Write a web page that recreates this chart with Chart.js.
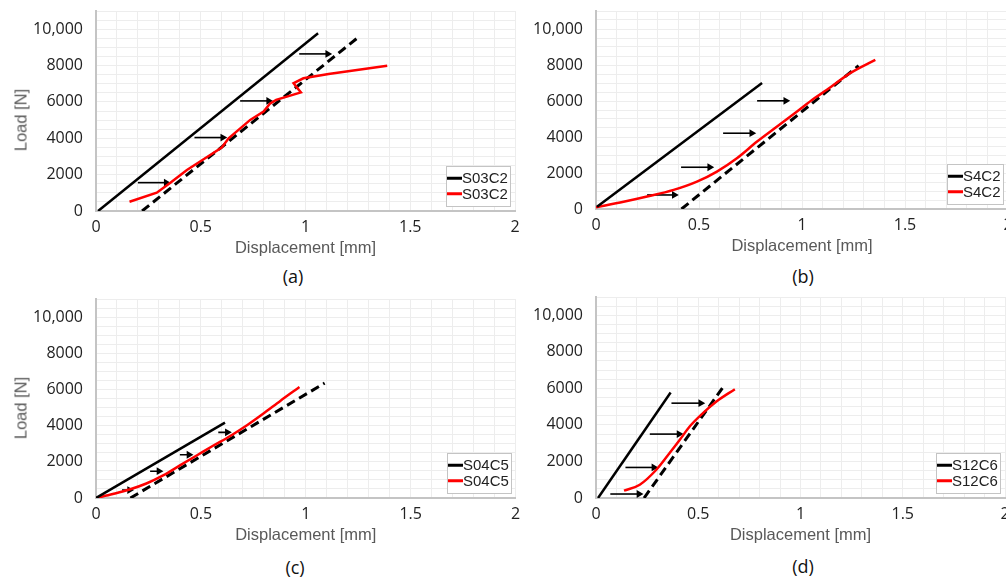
<!DOCTYPE html>
<html>
<head>
<meta charset="utf-8">
<script src="https://cdn.jsdelivr.net/npm/chart.js@4.4.1/dist/chart.umd.min.js"></script>
<style>
  html, body { margin: 0; padding: 0; background: #fff; }
  body { width: 1006px; height: 577px; position: relative; overflow: hidden; }
  canvas { position: absolute; }
  .ytitle, .caption { position: absolute; white-space: nowrap; transform: translate(-50%, -50%); }
  .ytitle { font: 16.5px "Liberation Sans", Arial, sans-serif; color: #595959; transform: translate(-50%, -50%) rotate(-90deg); }
  .caption { font: 18px "Open Sans", sans-serif; color: #111; }
</style>
</head>
<body>
<script>
// load-displacement curves, four specimens
// each point is [displacement mm, load N]; arrows are [x start, x end, load]

const legendLabels = ['S03C2', 'S4C2', 'S04C5', 'S12C6'];
const captions = ['(a)', '(b)', '(c)', '(d)'];
const yLabelValues = [0, 2000, 4000, 6000, 8000, 10000];
const xLabelValues = [0, 0.5, 1, 1.5, 2];

const aSolid = [[0.01, 0], [1.06, 9780]];
const aDashed = [[0.22, 0], [1.26, 9630]];
const aRed = [[0.16, 510], [0.29, 1010], [0.355, 1560], [0.434, 2260], [0.545, 3080], [0.60, 3490],
    [0.633, 4000], [0.736, 5010], [0.80, 5470], [0.83, 5900], [0.86, 6110], [0.978, 6520],
    [0.943, 7030], [0.99, 7300], [1.11, 7540], [1.39, 7990]];
const aArrows = [[0.20, 0.335, 1560], [0.47, 0.605, 4040], [0.688, 0.824, 6055], [0.97, 1.106, 8640]];

const bSolid = [[0.005, 120], [0.806, 7000]];
const bDashed = [[0.415, 0], [1.275, 7960]];
const bRed = [[0, 100], [0.134, 400], [0.248, 690], [0.377, 1060], [0.49, 1520], [0.587, 2080],
    [0.684, 2820], [0.782, 3745], [0.879, 4580], [0.976, 5415], [1.06, 6150], [1.121, 6620],
    [1.234, 7550], [1.356, 8290]];
const bArrows = [[0.248, 0.38, 780], [0.413, 0.552, 2320], [0.617, 0.756, 4210], [0.782, 0.921, 6010]];

const cSolid = [[0, 0], [0.615, 4170]];
const cDashed = [[0.164, 0], [1.09, 6350]];
const cRed = [[0, 0], [0.08, 220], [0.16, 470], [0.24, 800], [0.32, 1250], [0.40, 1800], [0.48, 2350],
    [0.56, 2900], [0.64, 3430], [0.72, 4020], [0.80, 4680], [0.88, 5380], [0.97, 6130]];
const cArrows = [[0.124, 0.16, 440], [0.258, 0.30, 1480], [0.40, 0.443, 2390], [0.583, 0.626, 3630]];

const dSolid = [[0.01, 0], [0.365, 5770]];
const dDashed = [[0.235, 0], [0.621, 6065]];
const dRed = [[0.137, 400], [0.214, 727], [0.295, 1546], [0.36, 2460], [0.41, 3186], [0.458, 3912],
    [0.523, 4645], [0.589, 5280], [0.679, 5956]];
const dArrows = [[0.07, 0.21, 218], [0.144, 0.283, 1672], [0.263, 0.406, 3497], [0.369, 0.512, 5190]];

// where each panel sits on the page (canvas origin + plot area edges)
const panels = [
    { solid: aSolid, dashed: aDashed, red: aRed, arrows: aArrows, smooth: false, yTitle: true,
      box: { cx: 0, cy: 0, cw: 520, l: 96, t: 11, r: 515, b: 211 }, cap: [293, 276] },
    { solid: bSolid, dashed: bDashed, red: bRed, arrows: bArrows, smooth: true, yTitle: false,
      box: { cx: 500, cy: 0, cw: 520, l: 596, t: 11, r: 1008, b: 209 }, cap: [803, 276] },
    { solid: cSolid, dashed: cDashed, red: cRed, arrows: cArrows, smooth: true, yTitle: true,
      box: { cx: 0, cy: 285, cw: 520, l: 96, t: 299, r: 516, b: 498 }, cap: [295, 567] },
    { solid: dSolid, dashed: dDashed, red: dRed, arrows: dArrows, smooth: true, yTitle: false,
      box: { cx: 500, cy: 285, cw: 520, l: 596, t: 297, r: 1005, b: 498 }, cap: [803, 566] }
];

const toXY = pts => pts.map(p => ({ x: p[0], y: p[1] }));

// legend box drawn in the bottom right corner of the plot area
const boxLegend = {
    id: 'boxLegend',
    afterDraw(chart) {
        const { ctx, chartArea } = chart;
        const items = chart.data.datasets.filter(ds => ds.inLegend);
        ctx.save();
        ctx.font = '15px "Liberation Sans", Arial, sans-serif';
        const textW = Math.max(...items.map(it => ctx.measureText(it.label).width));
        const sample = 15, rowH = 15.5, padY = 4.5;
        const w = Math.round(1 + sample + textW + 2);
        const h = Math.round(padY * 2 + rowH * items.length);
        const x = Math.round(chartArea.right - 5 - w);
        const y = Math.round(chartArea.bottom - 5 - h);
        ctx.fillStyle = '#fff';
        ctx.fillRect(x, y, w, h);
        ctx.strokeStyle = '#c4c4c4';
        ctx.lineWidth = 1;
        ctx.strokeRect(x + 0.5, y + 0.5, w, h);
        items.forEach((it, i) => {
            const cy = y + padY + rowH * (i + 0.5);
            ctx.strokeStyle = it.borderColor;
            ctx.lineWidth = 3;
            ctx.beginPath();
            ctx.moveTo(x + 1, cy);
            ctx.lineTo(x + 1 + sample, cy);
            ctx.stroke();
            ctx.fillStyle = '#222';
            ctx.textBaseline = 'middle';
            ctx.textAlign = 'left';
            ctx.fillText(it.label, x + 1 + sample, cy + 1);
        });
        ctx.restore();
    }
};

function addText(cls, text, x, y) {
    const el = document.createElement('div');
    el.className = cls;
    el.textContent = text;
    el.style.left = x + 'px';
    el.style.top = y + 'px';
    document.body.appendChild(el);
}

panels.forEach((p, i) => {
    const bx = p.box;
    const ch = bx.b + 51 - bx.cy;
    const canvas = document.createElement('canvas');
    canvas.width = bx.cw;
    canvas.height = ch;
    canvas.style.left = bx.cx + 'px';
    canvas.style.top = bx.cy + 'px';
    document.body.appendChild(canvas);

    const solid = { label: legendLabels[i], data: toXY(p.solid), borderColor: '#000', borderWidth: 2.5, inLegend: true };
    const red = {
        label: legendLabels[i], data: toXY(p.red), borderColor: '#ff0000', borderWidth: 2.5,
        cubicInterpolationMode: p.smooth ? 'monotone' : 'default', inLegend: true
    };
    const dashed = { label: 'dashed', data: toXY(p.dashed), borderColor: '#000', borderWidth: 3, borderDash: [9, 5] };
    const arrows = p.arrows.map(a => ({
        label: 'arrow', data: [{ x: a[0], y: a[2] }, { x: a[1], y: a[2] }],
        borderColor: '#000', borderWidth: 1.6,
        pointRadius: [0, 4.5], pointStyle: 'triangle', pointRotation: 90,
        pointBackgroundColor: '#000', pointBorderWidth: 0
    }));

    new Chart(canvas, {
        type: 'line',
        data: { datasets: [solid, red, dashed, ...arrows] },
        options: {
            responsive: false,
            animation: false,
            events: [],
            layout: { padding: { top: bx.t - bx.cy, right: bx.cx + bx.cw - bx.r, left: 0, bottom: 0 } },
            elements: { point: { radius: 0 }, line: { tension: 0 } },
            plugins: { legend: { display: false }, tooltip: { enabled: false } },
            scales: {
                x: {
                    type: 'linear', min: 0, max: 2,
                    afterFit: s => { s.height = bx.cy + ch - bx.b; s.paddingLeft = 0; s.paddingRight = 0; },
                    ticks: {
                        stepSize: 0.1, autoSkip: false, maxRotation: 0, padding: 7,
                        color: '#222', font: { family: '"Open Sans", sans-serif', size: 16 },
                        callback: v => xLabelValues.some(t => Math.abs(t - v) < 1e-6) ? String(Math.round(v * 10) / 10) : ''
                    },
                    grid: { color: '#ededed', drawTicks: false },
                    border: { color: '#c4c4c4', width: 2 },
                    title: {
                        display: true, text: 'Displacement [mm]', color: '#595959',
                        font: { family: '"Liberation Sans", Arial, sans-serif', size: 16.5 },
                        padding: { top: 0, bottom: 4 }
                    }
                },
                y: {
                    min: 0, max: 11000,
                    afterFit: s => { s.width = bx.l - bx.cx; s.paddingTop = 0; s.paddingBottom = 0; },
                    ticks: {
                        stepSize: 500, autoSkip: false, padding: 13,
                        color: '#222', font: { family: '"Open Sans", sans-serif', size: 16 },
                        callback: v => yLabelValues.includes(v) ? (v >= 10000 ? v.toLocaleString('en-US') : String(v)) : ''
                    },
                    grid: { color: '#ededed', drawTicks: false },
                    border: { color: '#c4c4c4', width: 2 }
                }
            }
        },
        plugins: [boxLegend]
    });

    if (p.yTitle) addText('ytitle', 'Load [N]', 21, (bx.t + bx.b) / 2 + 9);
    addText('caption', captions[i], p.cap[0], p.cap[1]);
});
</script>
</body>
</html>
